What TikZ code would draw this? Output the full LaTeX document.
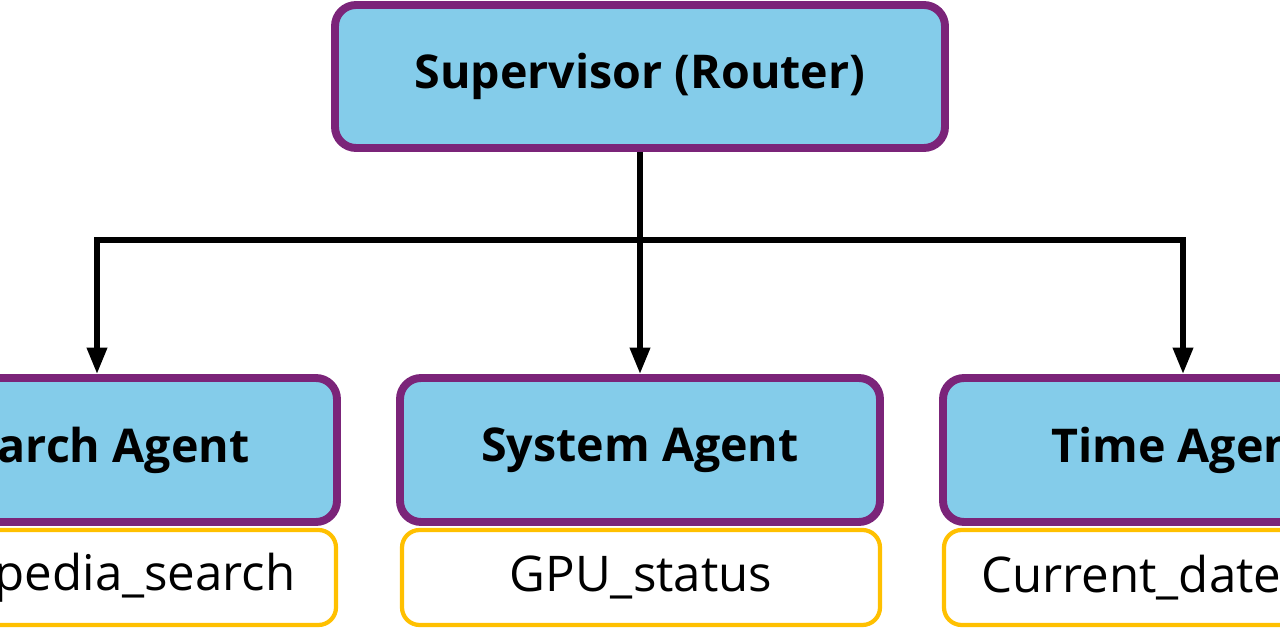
\documentclass[tikz,border=0pt]{standalone}
\usepackage{fontspec}
\setmainfont{Open Sans}
\usetikzlibrary{positioning,arrows.meta}
\definecolor{agentfill}{HTML}{84CCEA}
\definecolor{agentline}{HTML}{7B2479}
\definecolor{toolline}{HTML}{FFC000}

\begin{document}
\begin{tikzpicture}[>={Triangle[length=15pt,width=11pt]}]
  \tikzset{
    agent/.style = {draw=agentline, line width=4.5pt, fill=agentfill, rounded corners=12pt, minimum height=2.88cm, minimum width=9.6cm, font={\fontsize{26.5}{30}\selectfont\bfseries}},
    tool/.style = {draw=toolline, line width=2.4pt, fill=white, rounded corners=10pt, minimum height=1.9cm, minimum width=9.56cm, font={\fontsize{28}{32}\selectfont}},
    link/.style = {black, line width=3.2pt},
    linkArrow/.style = {link, ->}
  }
  \useasboundingbox (0,0) rectangle (25.6,-12.8);

  \node[agent, minimum width=12.2cm, minimum height=2.86cm] (sup) at (12.8,-1.53) {Supervisor (Router)};
  \node[agent] (search) at (1.94,-9.0) {Search Agent};
  \node[agent] (system) at (12.8,-9.0) {System Agent};
  \node[agent] (time)   at (23.66,-9.0) {Time Agent};

  \node[tool] (wiki) at (1.94,-11.55) {Wikipedia\_search};
  \node[tool] (gpu)  at (12.82,-11.55) {GPU\_status};
  \node[tool] (date) at (23.66,-11.55) {Current\_datetime};

  \coordinate (bar) at (12.8,-4.8);
  \draw[linkArrow] (sup.south) -- (system.north);
  \draw[linkArrow] (bar) -| (search.north);
  \draw[linkArrow] (bar) -| (time.north);
\end{tikzpicture}
\end{document}
